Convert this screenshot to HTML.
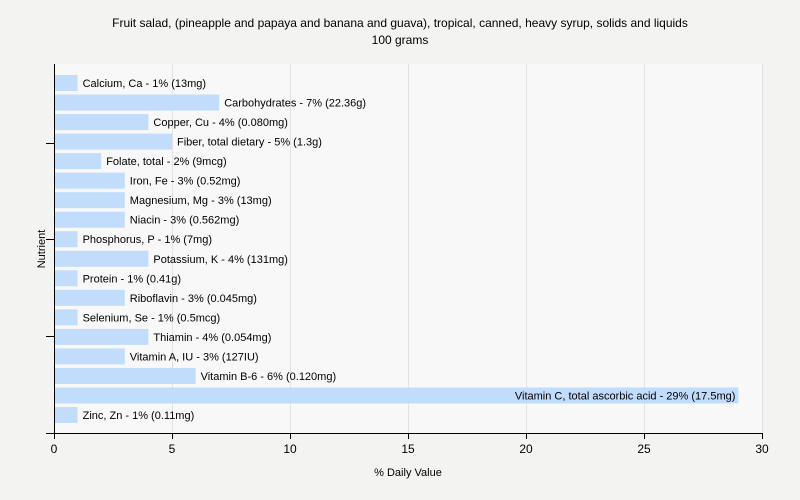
<!DOCTYPE html>
<html><head><meta charset="utf-8"><style>
html,body{margin:0;padding:0;background:#f3f3f2;font-family:"Liberation Sans",sans-serif;overflow:hidden;}
svg{display:block;}
svg text{font-family:"Liberation Sans",sans-serif;}
</style></head><body>
<svg width="800" height="500" xmlns="http://www.w3.org/2000/svg">
<rect width="800" height="500" fill="#f3f3f2"/>
<text x="400" y="27" font-size="12" text-anchor="middle">Fruit salad, (pineapple and papaya and banana and guava), tropical, canned, heavy syrup, solids and liquids</text>
<text x="400" y="44" font-size="12" text-anchor="middle">100 grams</text>
<rect x="54" y="64" width="708" height="369" fill="#f8f8f8"/>
<g id="grid"></g>
<g id="bars"></g>
<line x1="54.5" y1="64" x2="54.5" y2="434" stroke="#000"/>
<line x1="46" y1="433.5" x2="762" y2="433.5" stroke="#000"/>
<g id="xticks"></g>
<line x1="46" y1="143.5" x2="54" y2="143.5" stroke="#000"/>
<line x1="46" y1="239.5" x2="54" y2="239.5" stroke="#000"/>
<line x1="46" y1="336.5" x2="54" y2="336.5" stroke="#000"/>
<text x="408" y="476" font-size="11" text-anchor="middle">% Daily Value</text>
<text x="45" y="249" font-size="11" text-anchor="middle" transform="rotate(-90 45 249)">Nutrient</text>
</svg>
<script>
const categories=["Calcium, Ca","Carbohydrates","Copper, Cu","Fiber, total dietary","Folate, total","Iron, Fe","Magnesium, Mg","Niacin","Phosphorus, P","Potassium, K","Protein","Riboflavin","Selenium, Se","Thiamin","Vitamin A, IU","Vitamin B-6","Vitamin C, total ascorbic acid","Zinc, Zn"];
const values=[1,7,4,5,2,3,3,3,1,4,1,3,1,4,3,6,29,1];
const amounts=["13mg","22.36g","0.080mg","1.3g","9mcg","0.52mg","13mg","0.562mg","7mg","131mg","0.41g","0.045mg","0.5mcg","0.054mg","127IU","0.120mg","17.5mg","0.11mg"];
const xTicks=[0,5,10,15,20,25,30];
const NS="http://www.w3.org/2000/svg";
const x=v=>54+v*708/30;
const step=(407-75)/(categories.length-1);
const y=i=>75+i*step;
function mk(t,a,p){const e=document.createElementNS(NS,t);for(const k in a)e.setAttribute(k,a[k]);p.appendChild(e);return e;}
const grid=document.getElementById('grid'),bars=document.getElementById('bars'),xt=document.getElementById('xticks');
xTicks.forEach(t=>{
 if(t>0){const g=mk('line',{x1:x(t)+.5,x2:x(t)+.5,y1:64,y2:433,stroke:'#e2e2e2'},grid);
 
 }
 const tk=mk('line',{x1:x(t)+.5,x2:x(t)+.5,y1:433,y2:439,stroke:'#000'},xt);
 
 
 const lb=mk('text',{x:x(t),y:453,'font-size':12,'text-anchor':'middle'},xt);
 lb.textContent=t;
 
 
});
categories.forEach((c,i)=>{
 const r=mk('rect',{x:55,y:y(i),width:x(values[i])-55,height:16,fill:'#c2dcfc'},bars);
 
 
 const label=c+' - '+values[i]+'% ('+amounts[i]+')';
 const inside=values[i]>20;
 const t=mk('text',{x:inside?x(values[i])-3:x(values[i])+5,y:y(i)+12,'font-size':11,'text-anchor':inside?'end':'start'},bars);
 t.textContent=label;
 
 
});
</script>
</body></html>
